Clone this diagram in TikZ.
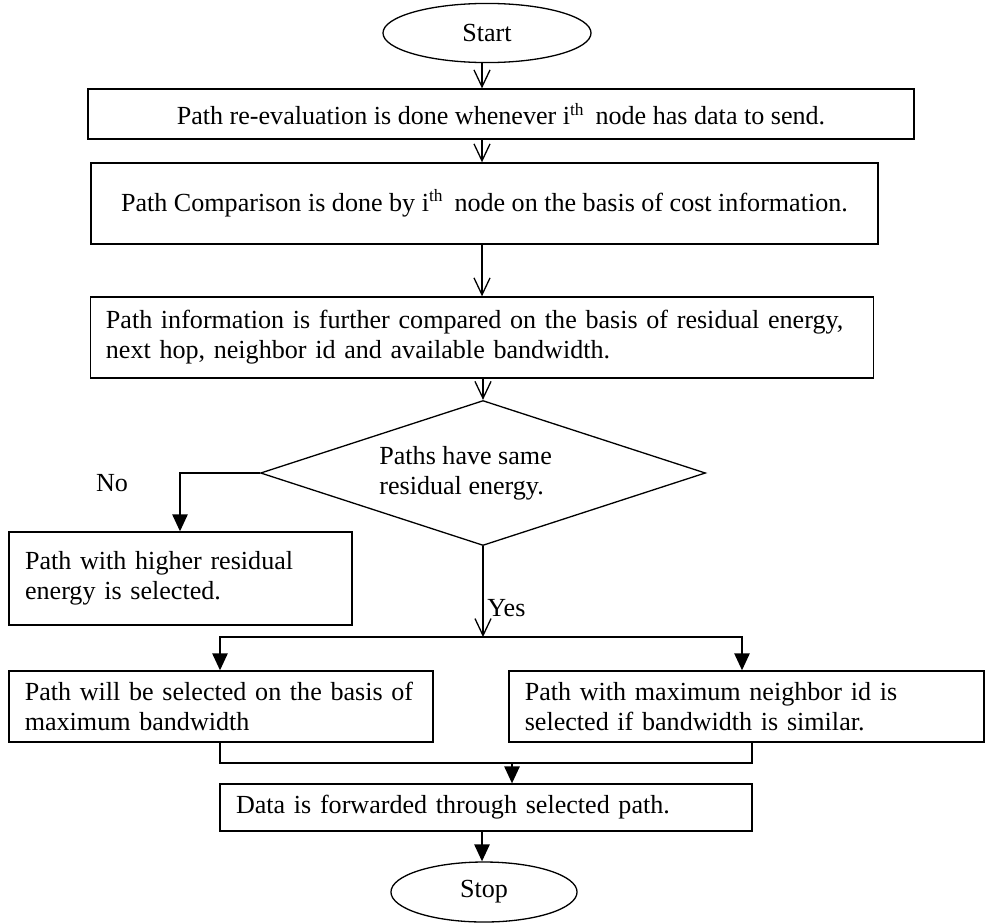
\documentclass[tikz,border=0pt]{standalone}
\usepackage{fontspec}
\setmainfont{Liberation Serif}
\usetikzlibrary{shapes.geometric,arrows.meta}
\begin{document}
\begin{tikzpicture}[x=0.46pt,y=-0.46pt,font=\fontsize{12}{13.8}\selectfont,
		box/.style={draw,line width=0.6pt,inner sep=0pt},
		term/.style={draw,ellipse,line width=0.6pt,inner sep=0pt},
		open/.style={-{Straight Barb[length=7.8pt,width=7.4pt]},line width=0.6pt},
		arr/.style={-{Triangle[length=7.8pt,width=7pt]},line width=0.9pt},
		link/.style={line width=0.9pt}]
		\useasboundingbox (0,0) rectangle (985,923);
		\node[term,minimum width=95.7pt,minimum height=27.2pt] (start) at (487,33) {Start};
		\node[box,minimum width=380pt,minimum height=23pt] (reeval) at (501,114) {Path re-evaluation is done whenever i\textsuperscript{th}\, node has data to send.};
		\node[box,minimum width=362pt,minimum height=37.3pt] (compare) at (484.5,203.5) {Path Comparison is done by i\textsuperscript{th}\, node on the basis of cost information.};
		\node[box,minimum width=360pt,minimum height=37.3pt,text width=346pt,align=left] (info) at (482,337.5) {Path information is further compared on the basis of residual energy,\\next hop, neighbor id and available bandwidth.};
		\node[draw,diamond,aspect=3,line width=0.6pt,inner sep=0pt,minimum width=204.7pt,minimum height=66.7pt,align=left] (same) at (483,473) {Paths have same\hspace*{16pt}\\residual energy.};
		\node[box,minimum width=157.8pt,minimum height=42.8pt,text width=143pt,align=left] (higher) at (180.5,578.5) {Path with higher residual\\energy is selected.};
		\node[box,minimum width=195pt,minimum height=32.7pt,text width=180.5pt,align=left] (bandw) at (221,706.5) {Path will be selected on the basis of\\maximum bandwidth};
		\node[box,minimum width=218.5pt,minimum height=32.7pt,text width=204pt,align=left] (neigh) at (746.5,706.5) {Path with maximum neighbor id is\\selected if bandwidth is similar.};
		\node[box,minimum width=244.7pt,minimum height=21.6pt,text width=230pt,align=left] (fwd) at (486,807.5) {Data is forwarded through selected path.};
		\node[term,minimum width=85.6pt,minimum height=27.6pt] (stop) at (484,892) {Stop};
		\node (no) at (112,483) {No};
		\node[anchor=west,inner sep=0pt] (yes) at (487,608) {Yes};
		\coordinate (spine) at (482,0);
		\coordinate (nobend) at (180,473);
		\coordinate (split) at (0,637);
		\coordinate (merge) at (0,763);
		\coordinate (lefttap) at (220,0);
		\coordinate (righttap) at (742,0);
		\coordinate (mergeright) at (752,0);
		\coordinate (fwdtap) at (512,0);
		\draw[open] (start.south -| spine) -- (reeval.north -| spine);
		\draw[open] (reeval.south -| spine) -- (compare.north -| spine);
		\draw[open] (compare.south -| spine) -- (info.north -| spine);
		\draw[open] (info.south -| same) -- (same.north);
		\draw[arr] (same.west) -- (nobend) -- (higher.north -| nobend);
		\draw[open] (same.south) -- (same.south |- split);
		\draw[{Triangle[length=7.8pt,width=7pt]}-{Triangle[length=7.8pt,width=7pt]},line width=0.9pt] (bandw.north -| lefttap) -- (split -| lefttap) -- (split -| righttap) -- (neigh.north -| righttap);
		\draw[link] (bandw.south -| lefttap) -- (merge -| lefttap) -- (merge -| mergeright) -- (neigh.south -| mergeright);
		\draw[arr] (merge -| fwdtap) -- (fwd.north -| fwdtap);
		\draw[arr] (fwd.south -| spine) -- (stop.north -| spine);
\end{tikzpicture}
\end{document}
